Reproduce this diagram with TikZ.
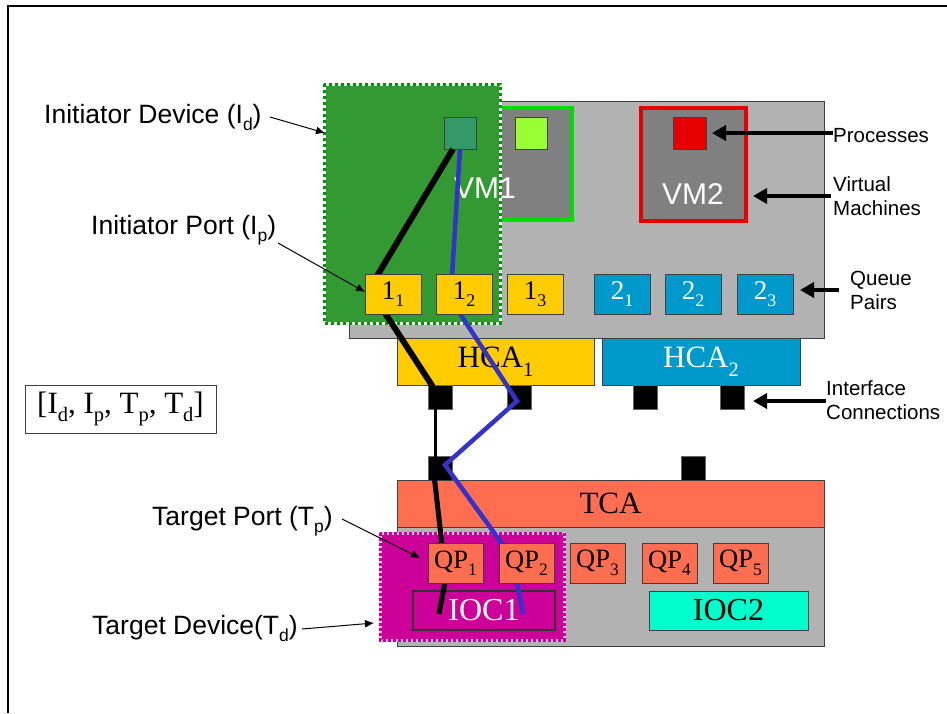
\documentclass[tikz,border=0pt]{standalone}
\usepackage{fontspec}
\setmainfont{Liberation Serif}
\setsansfont{Liberation Sans}
\usepackage{graphicx}
\usetikzlibrary{arrows.meta}
\newcommand\sbx[1]{\raisebox{-0.28em}{\scalebox{0.66}{#1}}}
\definecolor{hostgray}{RGB}{178,178,178}
\definecolor{vmgray}{RGB}{128,128,128}
\definecolor{vmgreen}{RGB}{0,222,0}
\definecolor{vmred}{RGB}{230,0,0}
\definecolor{devgreen}{RGB}{51,153,51}
\definecolor{dashgreen}{RGB}{0,150,0}
\definecolor{procdark}{RGB}{51,153,102}
\definecolor{proclight}{RGB}{153,255,51}
\definecolor{qpyellow}{RGB}{255,204,0}
\definecolor{qpblue}{RGB}{0,153,204}
\definecolor{coral}{RGB}{255,110,80}
\definecolor{magent}{RGB}{204,0,153}
\definecolor{pinklight}{RGB}{255,190,235}
\definecolor{aqua}{RGB}{0,255,204}
\definecolor{lineblue}{RGB}{51,51,204}
\begin{document}
\begin{tikzpicture}[x=1pt,y=-1pt,
  box/.style={anchor=north west, inner sep=0pt, outer sep=0pt, draw=black!75, line width=1pt},
  qpfont/.style={font=\fontsize{27}{29}\selectfont},
  qpfontb/.style={font=\fontsize{26.5}{29}\selectfont},
  bigfont/.style={font=\fontsize{31}{34}\selectfont},
  labl/.style={font=\sffamily\fontsize{26.5}{30}\selectfont, anchor=base west, inner sep=0pt},
  labr/.style={font=\sffamily\fontsize{20.5}{24}\selectfont, anchor=base west, inner sep=0pt},
  thinarrow/.style={line width=1pt, -{Latex[length=9pt,width=8pt]}},
  thickarrow/.style={line width=4pt, -{Triangle[length=14pt,width=15pt]}},
  blackline/.style={line width=6pt},
  blueline/.style={line width=4.5pt, color=lineblue}
]
\useasboundingbox (0,0) rectangle (947,713);
% frame
\draw[line width=2.5pt] (8,713) -- (8,6) -- (947,6);

% host
\node[box, fill=hostgray, minimum width=475pt, minimum height=237pt] (host) at (349,101) {};
\node[box, fill=vmgray, draw=vmgreen, line width=3.5pt, minimum width=174pt, minimum height=112pt] (vm1) at (398,108) {};
\node[box, fill=vmgray, draw=vmred, line width=3.5pt, minimum width=105pt, minimum height=113pt] (vm2) at (641,108) {};
% initiator device
\node[box, fill=devgreen, draw=white, line width=3pt, minimum width=176pt, minimum height=239pt] (idev) at (324,84) {};
\draw[dashgreen, line width=3pt, dash pattern=on 3pt off 3pt] (idev.north west) rectangle (idev.south east);
% processes
\node[box, fill=procdark, minimum width=32pt, minimum height=32pt] (pdark) at (444,117) {};
\node[box, fill=proclight, minimum width=32pt, minimum height=32pt] (plight) at (515,117) {};
\node[box, fill=vmred, minimum width=33pt, minimum height=32pt] (pred) at (673,117) {};
\node[font=\sffamily\fontsize{30}{32}\selectfont, text=white, inner sep=0pt] (vm1t) at (485,188) {VM1};
\node[font=\sffamily\fontsize{30}{32}\selectfont, text=white, inner sep=0pt] (vm2t) at (693,194) {VM2};

% HCAs
\node[box, fill=qpyellow, bigfont, minimum width=197pt, minimum height=47pt] (hca1) at (397,338) {HCA\sbx{1}};
\node[box, fill=qpblue, bigfont, text=white, minimum width=198pt, minimum height=47pt] (hca2) at (602,338) {HCA\sbx{2}};
% interface connections
\foreach \n/\x/\y in {ic1/428/385, ic2/507/385, ic3/633/385, ic4/720/385, ic5/428/456, ic6/681/456}
  \node[box, fill=black, draw=black!60, minimum width=24pt, minimum height=24pt] (\n) at (\x,\y) {};

% TCA
\node[box, fill=coral, bigfont, minimum width=427pt, minimum height=47pt] (tca) at (397,480) {TCA};
\node[box, fill=hostgray, minimum width=427pt, minimum height=119pt] (tgray) at (397,527) {};
\node[box, fill=magent, draw=pinklight, line width=3pt, minimum width=184pt, minimum height=107pt] (tdev) at (380,533) {};
\draw[magent, line width=3pt, dash pattern=on 3pt off 2pt] (tdev.north west) rectangle (tdev.south east);
\node[box, fill=magent, draw=black!80, line width=1.2pt, text=white, font=\fontsize{32}{34}\selectfont, minimum width=142pt, minimum height=39pt] (ioc1) at (413,591) {IOC1};
\node[box, fill=aqua, font=\fontsize{32}{34}\selectfont, minimum width=159pt, minimum height=39pt] (ioc2) at (649,591) {IOC2};

% queue pairs not on paths
\node[box, fill=qpyellow, qpfont, minimum width=56pt, minimum height=40pt] (q13) at (507,274) {1\sbx{3}};
\node[box, fill=qpblue, qpfont, text=white, minimum width=56pt, minimum height=40pt] (q21) at (594,274) {2\sbx{1}};
\node[box, fill=qpblue, qpfont, text=white, minimum width=56pt, minimum height=40pt] (q22) at (665,274) {2\sbx{2}};
\node[box, fill=qpblue, qpfont, text=white, minimum width=56pt, minimum height=40pt] (q23) at (737,274) {2\sbx{3}};
\node[box, fill=coral, qpfontb, minimum width=55pt, minimum height=40pt] (qp3) at (570,543) {QP\sbx{3}};
\node[box, fill=coral, qpfontb, minimum width=55pt, minimum height=40pt] (qp4) at (642,543) {QP\sbx{4}};
\node[box, fill=coral, qpfontb, minimum width=55pt, minimum height=40pt] (qp5) at (713,543) {QP\sbx{5}};

% path coordinates
\coordinate (b1) at (453,149);
\coordinate (b2) at (377,276);
\coordinate (b3) at (385,313);
\coordinate (b4) at (433,387);
\coordinate (b5) at (435,405);
\coordinate (b6) at (435,462);
\coordinate (b7) at (433,466);
\coordinate (b8) at (442,545);
\coordinate (b9) at (445,582);
\coordinate (b10) at (439,614);
\coordinate (u1) at (460,149);
\coordinate (u2) at (452,276);
\coordinate (u3) at (459,312);
\coordinate (u4) at (517,401);
\coordinate (u5) at (445,465);
\coordinate (u6) at (503,545);
\coordinate (u7) at (517,582);
\coordinate (u8) at (523,614);

% black path
\draw[blackline] (b1) -- (b2);
\draw[blackline] (b3) -- (b4);
\draw[line width=3pt] (b5) -- (b6);
\draw[line width=5pt] (b7) -- (b8);
\draw[line width=5pt] (b9) -- (b10);
% blue path
\draw[blueline] (u1) -- (u2);
\draw[blueline, line join=miter] (u3) -- (u4) -- (u5) -- (u6);
\draw[blueline] (u7) -- (u8);

% queue pairs on paths (on top)
\node[box, fill=qpyellow, qpfont, minimum width=56pt, minimum height=40pt] (q11) at (365,274) {1\sbx{1}};
\node[box, fill=qpyellow, qpfont, minimum width=56pt, minimum height=40pt] (q12) at (436,274) {1\sbx{2}};
\node[box, fill=coral, qpfontb, minimum width=55pt, minimum height=40pt] (qp1) at (428,543) {QP\sbx{1}};
\node[box, fill=coral, qpfontb, minimum width=55pt, minimum height=40pt] (qp2) at (499,543) {QP\sbx{2}};

% tuple box
\node[box, font=\fontsize{31}{33}\selectfont, minimum width=191pt, minimum height=48pt] (tuple) at (25,385) {[I\sbx{d}, I\sbx{p}, T\sbx{p}, T\sbx{d}]};

% left labels
\node[labl] (lid) at (44,123) {Initiator Device (I\sbx{d})};
\node[labl] (lip) at (91,234) {Initiator Port (I\sbx{p})};
\node[labl] (ltp) at (152,525) {Target Port (T\sbx{p})};
\node[labl] (ltd) at (92,634) {Target Device(T\sbx{d})};
\coordinate (a1s) at (270,117); \coordinate (a1e) at (325,133);
\coordinate (a2s) at (278,243); \coordinate (a2e) at (365,292);
\coordinate (a3s) at (342,519); \coordinate (a3e) at (420,558);
\coordinate (a4s) at (302,629); \coordinate (a4e) at (374,623);
\draw[thinarrow] (a1s) -- (a1e);
\draw[thinarrow] (a2s) -- (a2e);
\draw[thinarrow] (a3s) -- (a3e);
\draw[thinarrow] (a4s) -- (a4e);

% right labels
\node[labr] (lproc) at (833,142) {Processes};
\node[labr, align=left] (lvm) at (833,215) {Virtual\\Machines};
\node[labr, align=left] (lqp) at (850,309) {Queue\\Pairs};
\node[labr, align=left] (lic) at (826,419) {Interface\\Connections};
\coordinate (r1s) at (833,133); \coordinate (r1e) at (712,133);
\coordinate (r2s) at (831,196); \coordinate (r2e) at (753,196);
\coordinate (r3s) at (839,290); \coordinate (r3e) at (800,290);
\coordinate (r4s) at (826,401); \coordinate (r4e) at (753,401);
\draw[thickarrow] (r1s) -- (r1e);
\draw[thickarrow] (r2s) -- (r2e);
\draw[thickarrow] (r3s) -- (r3e);
\draw[thickarrow] (r4s) -- (r4e);
\end{tikzpicture}
\end{document}
